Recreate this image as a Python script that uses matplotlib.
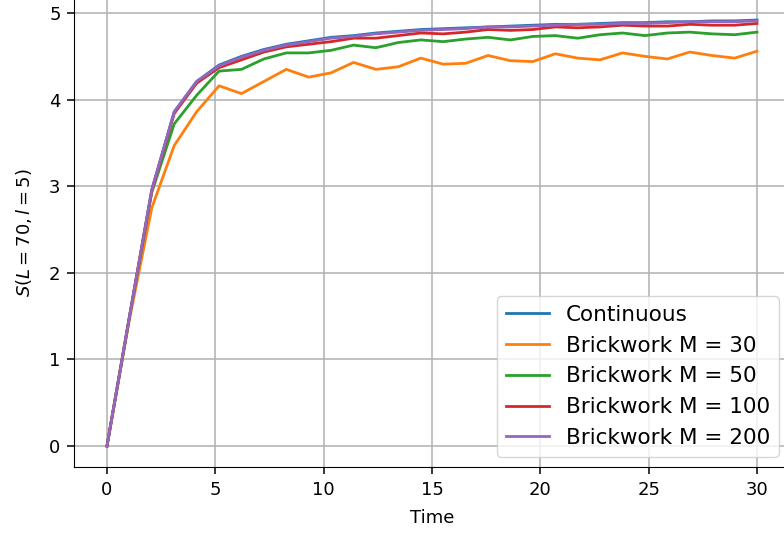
import numpy as np
import matplotlib
matplotlib.use("Agg")
import matplotlib.pyplot as plt

# time grid: 30 samples from 0 to 30
t = np.linspace(0, 30, 30)

continuo = [0.00, 1.49, 2.96, 3.86, 4.21, 4.40, 4.50, 4.58, 4.64, 4.68,
            4.72, 4.74, 4.77, 4.79, 4.81, 4.82, 4.83, 4.84, 4.85, 4.86,
            4.87, 4.87, 4.88, 4.89, 4.89, 4.90, 4.90, 4.91, 4.91, 4.92]

m30 = [0.00, 1.46, 2.75, 3.47, 3.86, 4.16, 4.07, 4.21, 4.35, 4.26,
       4.31, 4.43, 4.35, 4.38, 4.48, 4.41, 4.42, 4.51, 4.45, 4.44,
       4.53, 4.48, 4.46, 4.54, 4.50, 4.47, 4.55, 4.51, 4.48, 4.56]

m50 = [0.00, 1.48, 2.93, 3.72, 4.05, 4.33, 4.35, 4.47, 4.54, 4.54,
       4.57, 4.63, 4.60, 4.66, 4.69, 4.67, 4.70, 4.72, 4.69, 4.73,
       4.74, 4.71, 4.75, 4.77, 4.74, 4.77, 4.78, 4.76, 4.75, 4.78]

m100 = [0.00, 1.49, 2.95, 3.84, 4.19, 4.37, 4.46, 4.55, 4.61, 4.64,
        4.67, 4.71, 4.71, 4.74, 4.77, 4.76, 4.78, 4.81, 4.80, 4.81,
        4.84, 4.83, 4.84, 4.86, 4.85, 4.85, 4.87, 4.86, 4.86, 4.88]

m200 = [0.00, 1.49, 2.96, 3.86, 4.21, 4.39, 4.49, 4.57, 4.63, 4.67,
        4.71, 4.73, 4.76, 4.78, 4.80, 4.81, 4.82, 4.84, 4.84, 4.85,
        4.86, 4.87, 4.87, 4.88, 4.88, 4.89, 4.90, 4.90, 4.90, 4.91]

series = [("Continuous", continuo),
          ("Brickwork M = 30", m30),
          ("Brickwork M = 50", m50),
          ("Brickwork M = 100", m100),
          ("Brickwork M = 200", m200)]

plt.rcParams["font.size"] = 13

fig = plt.figure(figsize=(7.84, 5.38), dpi=100)
ax = fig.add_axes([0.095, 0.1314, 0.912, 0.871])

for nombre, valores in series:
    ax.plot(t, valores, lw=2, label=nombre)

ax.set_xlim(-1.5, 31.5)
ax.set_ylim(-0.246, 5.166)
ax.set_xticks([0, 5, 10, 15, 20, 25, 30])
ax.set_yticks([0, 1, 2, 3, 4, 5])
ax.tick_params(length=5, pad=5, width=1.1)
ax.grid(True, lw=1.1)
ax.set_xlabel("Time", labelpad=7)
ax.set_ylabel(r"$S(L=70,l=5)$", labelpad=11)
ax.legend(loc="lower right", fontsize=15.5)

fig.savefig("out.png", dpi=100)
